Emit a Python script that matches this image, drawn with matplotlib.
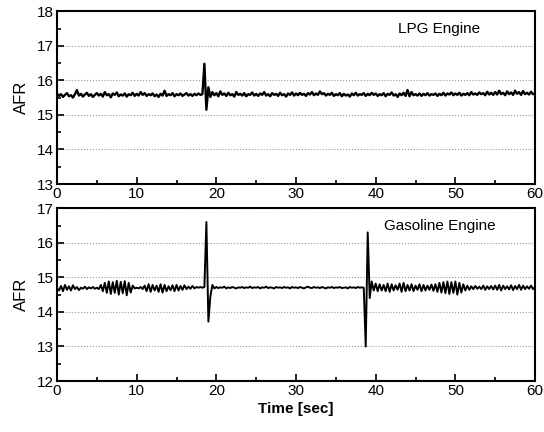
import numpy as np
import matplotlib
matplotlib.use("Agg")
import matplotlib.pyplot as plt
from matplotlib.ticker import MultipleLocator

plt.rcParams['font.family'] = ['Liberation Sans', 'DejaVu Sans']

# AFR samples, every 0.25 s from 0 to 60 s
lpg_afr = [
    15.62, 15.55, 15.60, 15.52, 15.58, 15.63, 15.54, 15.57, 15.50, 15.60, 15.72, 15.56, 15.61, 15.53, 15.59, 15.64, 15.55, 15.60, 15.52, 15.58,
    15.63, 15.56, 15.61, 15.53, 15.66, 15.57, 15.60, 15.51, 15.62, 15.58, 15.65, 15.54, 15.59, 15.56, 15.62, 15.53, 15.60, 15.57, 15.64, 15.55,
    15.61, 15.56, 15.66, 15.58, 15.63, 15.55, 15.60, 15.57, 15.62, 15.54, 15.59, 15.52, 15.61, 15.56, 15.70, 15.55, 15.60, 15.57, 15.63, 15.54,
    15.60, 15.57, 15.62, 15.55, 15.59, 15.63, 15.56, 15.60, 15.55, 15.61, 15.57, 15.62, 15.58, 15.60, 16.48, 15.15, 15.80, 15.52, 15.66, 15.57,
    15.63, 15.54, 15.68, 15.58, 15.62, 15.55, 15.64, 15.57, 15.60, 15.53, 15.66, 15.58, 15.61, 15.56, 15.63, 15.54, 15.60, 15.58, 15.65, 15.56,
    15.61, 15.55, 15.62, 15.58, 15.66, 15.56, 15.60, 15.54, 15.63, 15.58, 15.61, 15.55, 15.64, 15.57, 15.60, 15.53, 15.62, 15.58, 15.65, 15.56,
    15.62, 15.57, 15.64, 15.58, 15.61, 15.55, 15.63, 15.59, 15.66, 15.57, 15.62, 15.58, 15.68, 15.60, 15.63, 15.56, 15.61, 15.58, 15.64, 15.55,
    15.60, 15.57, 15.63, 15.54, 15.61, 15.56, 15.59, 15.53, 15.62, 15.57, 15.64, 15.56, 15.60, 15.58, 15.63, 15.55, 15.61, 15.57, 15.64, 15.58,
    15.62, 15.55, 15.60, 15.57, 15.63, 15.54, 15.61, 15.58, 15.65, 15.56, 15.60, 15.52, 15.62, 15.57, 15.64, 15.55, 15.72, 15.54, 15.66, 15.57,
    15.60, 15.56, 15.62, 15.55, 15.61, 15.57, 15.63, 15.56, 15.60, 15.58, 15.62, 15.55, 15.61, 15.57, 15.64, 15.56, 15.62, 15.59, 15.65, 15.57,
    15.62, 15.58, 15.64, 15.56, 15.61, 15.58, 15.63, 15.57, 15.66, 15.59, 15.62, 15.58, 15.65, 15.60, 15.63, 15.57, 15.67, 15.59, 15.64, 15.58,
    15.66, 15.59, 15.70, 15.60, 15.64, 15.57, 15.68, 15.60, 15.65, 15.58, 15.70, 15.61, 15.66, 15.58, 15.69, 15.60, 15.64, 15.59, 15.67, 15.60,
    15.62,
]

gasoline_afr = [
    14.68, 14.62, 14.75, 14.60, 14.78, 14.64, 14.74, 14.62, 14.77, 14.66, 14.72, 14.63, 14.70, 14.67, 14.73, 14.66, 14.71, 14.68, 14.72, 14.67,
    14.70, 14.66, 14.78, 14.60, 14.84, 14.55, 14.88, 14.52, 14.86, 14.55, 14.90, 14.50, 14.87, 14.54, 14.89, 14.48, 14.84, 14.56, 14.76, 14.68,
    14.70, 14.68, 14.72, 14.66, 14.76, 14.60, 14.80, 14.58, 14.78, 14.62, 14.76, 14.58, 14.80, 14.56, 14.78, 14.60, 14.74, 14.63, 14.77, 14.60,
    14.78, 14.62, 14.75, 14.64, 14.77, 14.66, 14.73, 14.67, 14.75, 14.68, 14.72, 14.70, 14.72, 14.70, 14.72, 16.60, 13.72, 14.45, 14.78, 14.68,
    14.72, 14.69, 14.71, 14.70, 14.73, 14.68, 14.71, 14.69, 14.72, 14.70, 14.68, 14.71, 14.70, 14.72, 14.69, 14.71, 14.70, 14.73, 14.69, 14.71,
    14.70, 14.72, 14.68, 14.71, 14.70, 14.73, 14.69, 14.71, 14.70, 14.68, 14.72, 14.70, 14.71, 14.69, 14.72, 14.70, 14.71, 14.68, 14.72, 14.70,
    14.71, 14.69, 14.72, 14.70, 14.68, 14.71, 14.73, 14.70, 14.69, 14.72, 14.70, 14.71, 14.69, 14.72, 14.70, 14.68, 14.71, 14.70, 14.72, 14.69,
    14.71, 14.70, 14.72, 14.69, 14.70, 14.71, 14.68, 14.72, 14.70, 14.71, 14.69, 14.72, 14.70, 14.71, 14.70, 13.00, 16.30, 14.40, 14.88, 14.62,
    14.82, 14.60, 14.80, 14.62, 14.78, 14.60, 14.82, 14.58, 14.80, 14.62, 14.77, 14.64, 14.82, 14.58, 14.84, 14.60, 14.78, 14.62, 14.80, 14.60,
    14.76, 14.64, 14.80, 14.60, 14.78, 14.62, 14.76, 14.64, 14.79, 14.61, 14.80, 14.58, 14.84, 14.56, 14.86, 14.54, 14.88, 14.52, 14.86, 14.55,
    14.88, 14.50, 14.84, 14.56, 14.80, 14.62, 14.76, 14.64, 14.74, 14.66, 14.75, 14.67, 14.73, 14.66, 14.76, 14.64, 14.74, 14.66, 14.75, 14.65,
    14.76, 14.64, 14.78, 14.62, 14.76, 14.66, 14.74, 14.65, 14.77, 14.63, 14.75, 14.66, 14.78, 14.64, 14.76, 14.66, 14.74, 14.67, 14.76, 14.66,
    14.72,
]

time_lpg = np.linspace(0, 60, len(lpg_afr))
time_gas = np.linspace(0, 60, len(gasoline_afr))

panel_titles = ['LPG Engine', 'Gasoline Engine']
y_limits = [(13, 18), (12, 17)]
line_widths = [1.7, 1.4]

fig = plt.figure(figsize=(5.44, 4.32), dpi=100)
ax_top = fig.add_axes([0.1048, 0.574, 0.8787, 0.400])
ax_bot = fig.add_axes([0.1048, 0.118, 0.8787, 0.400])

panels = [(ax_top, time_lpg, lpg_afr), (ax_bot, time_gas, gasoline_afr)]
for i, (ax, t, afr) in enumerate(panels):
    ax.plot(t, afr, color='black', linewidth=line_widths[i])
    ax.set_xlim(0, 60)
    ax.set_ylim(*y_limits[i])
    ax.xaxis.set_major_locator(MultipleLocator(10))
    ax.xaxis.set_minor_locator(MultipleLocator(5))
    ax.yaxis.set_major_locator(MultipleLocator(1))
    ax.yaxis.set_minor_locator(MultipleLocator(0.5))
    ax.tick_params(which='both', direction='in', top=False, right=False,
                   labelsize=11, width=1.2, pad=2)
    ax.tick_params(which='major', length=5)
    ax.tick_params(which='minor', length=3)
    ax.grid(axis='y', which='major', linestyle=':', color='#999999', linewidth=0.8)
    for sp in ax.spines.values():
        sp.set_linewidth(1.5)
    ax.set_ylabel('AFR', fontsize=12, labelpad=6)
    ax.text(0.80, 0.90, panel_titles[i], transform=ax.transAxes,
            ha='center', va='center', fontsize=11)

ax_bot.set_xlabel('Time [sec]', fontsize=11, fontweight='bold', labelpad=3)

fig.savefig('out.png', dpi=100)
